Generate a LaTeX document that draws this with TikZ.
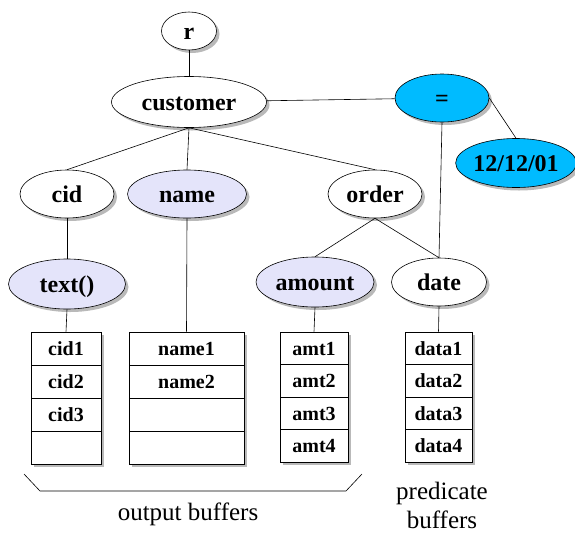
\documentclass[tikz,border=0pt]{standalone}
\usepackage{fontspec}
\setmainfont{LiberationSerif}[Extension=.ttf,UprightFont=*-Regular,BoldFont=*-Bold]
\usetikzlibrary{shapes.geometric,shadows}
\definecolor{predblue}{RGB}{0,187,255}
\definecolor{outlilac}{RGB}{228,228,250}

\begin{document}
\begin{tikzpicture}
  [x=1pt,y=-1pt,line width=.6pt,
   wh/.style 2 args={minimum width=#1pt,minimum height=#2pt}]
  \tikzstyle{elem} = [ellipse,draw,fill=white,inner sep=0pt,font=\fontsize{24}{28}\selectfont\bfseries,
                      text height=16pt,text depth=0pt,
                      drop shadow={shadow xshift=3pt,shadow yshift=-3pt,fill=black!55}]
  \tikzstyle{outfill} = [fill=outlilac]
  \tikzstyle{predfill} = [fill=predblue]
  \tikzstyle{cell} = [rectangle,draw,fill=white,inner sep=0pt,font=\fontsize{20}{24}\selectfont\bfseries,
                      text height=14pt,text depth=0pt,
                      drop shadow={shadow xshift=3pt,shadow yshift=-3pt,fill=black!55}]
  \tikzstyle{caption} = [font=\fontsize{25}{29}\selectfont,align=center]
  \useasboundingbox (0,0) rectangle (575,533);

  \node[elem,wh={55}{38}] (r) at (189,31) {r};
  \node[elem,wh={155}{51}] (cust) at (189,102) {customer};
  \node[elem,predfill,wh={94}{48}] (eq) at (442,98) {=};
  \node[elem,predfill,wh={118}{49}] (when) at (516,163) {12/12/01};
  \node[elem,wh={94}{48}] (cid) at (67,194) {cid};
  \node[elem,outfill,wh={119}{48}] (name) at (187,194) {name};
  \node[elem,wh={94}{48}] (order) at (375,194) {order};
  \node[elem,outfill,wh={117}{50}] (text) at (67,284) {text()};
  \node[elem,outfill,wh={118}{50}] (amount) at (315,282) {amount};
  \node[elem,wh={95}{48}] (date) at (439,282) {date};

  % buffers
  \foreach \t [count=\i] in {cid1,cid2,cid3,{}}
    \node[cell,wh={70}{33}] (c\i) at (66,{348.5+33*(\i-1)}) {\t};
  \foreach \t [count=\i] in {name1,name2,{},{}}
    \node[cell,wh={115}{33}] (n\i) at (186.5,{348.5+33*(\i-1)}) {\t};
  \foreach \t [count=\i] in {amt1,amt2,amt3,amt4}
    \node[cell,wh={68}{32.5}] (a\i) at (314,{348.25+32.5*(\i-1)}) {\t};
  \foreach \t [count=\i] in {data1,data2,data3,data4}
    \node[cell,wh={67}{32.5}] (d\i) at (438.5,{348.25+32.5*(\i-1)}) {\t};

\foreach \source/\dest in {r/cust,cust/cid,cust/name,cust/order,cid/text,order/amount,order/date,eq/date,text/c1,name/n1,amount/a1,date/d1}
   \draw (\source.south) -- (\dest.north);
  \draw (cust) -- (eq);
  \draw (eq.east) -- (when.north);

  \draw (24,474) -- (40,491) -- (346,491) -- (362,474);
  \node[caption] (outcap) at (188,514) {output buffers};
  \node[caption] (predcap) at (442,505) {predicate\\buffers};
\end{tikzpicture}
\end{document}
